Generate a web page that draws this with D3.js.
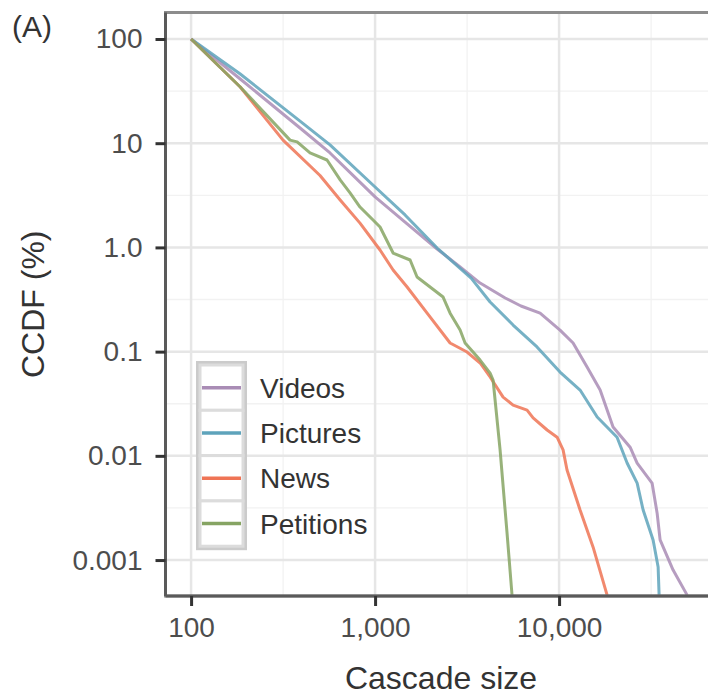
<html>
<head>
    <script src="https://cdnjs.cloudflare.com/ajax/libs/d3/7.8.5/d3.min.js"></script>
    <style>
        body { margin: 0; background: white; }
        text { font-family: "Liberation Sans", Arial, sans-serif; }
    </style>
</head>
<body>
<script>

// series, in legend order
var seriesNames = ["Videos", "Pictures", "News", "Petitions"];
var colors = ["#a98cb5", "#5ea3bb", "#ef7455", "#86a463"];

// cascade size (x) and CCDF in % (y)
var videosSize = [100, 185, 391, 569, 1000, 1455, 2174, 2898, 3722, 5095, 6209, 7886, 10117, 11916, 14194, 16717, 19654, 24322, 26562, 32016, 34109, 35401, 41660, 49660];
var videosCcdf = [100, 41.3, 14.0, 8.06, 3.05, 1.75, 0.966, 0.649, 0.455, 0.327, 0.274, 0.234, 0.161, 0.121, 0.0711, 0.0428, 0.0189, 0.0121, 0.00853, 0.00548, 0.00282, 0.00156, 0.000802, 0.000461];

var picturesSize = [100, 185, 391, 569, 1000, 1455, 2174, 3327, 4218, 5623, 7586, 10117, 13005, 16107, 20654, 23428, 26562, 28632, 32432, 34535, 34966];
var picturesCcdf = [100, 46.1, 16.3, 9.62, 3.80, 2.05, 0.986, 0.508, 0.299, 0.180, 0.111, 0.0637, 0.0428, 0.0236, 0.0151, 0.00853, 0.00548, 0.00302, 0.00156, 0.000857, 0.000461];

var newsSize = [100, 185, 316, 502, 646, 828, 1064, 1253, 1493, 1918, 2557, 3162, 3722, 4218, 4963, 5623, 6699, 7224, 8610, 9755, 10513, 11045, 13005, 15309, 18243];
var newsCcdf = [100, 34.6, 10.7, 4.9, 2.85, 1.71, 0.944, 0.607, 0.417, 0.234, 0.121, 0.0991, 0.0778, 0.0571, 0.0366, 0.0307, 0.0275, 0.0231, 0.0177, 0.0151, 0.0114, 0.00731, 0.00302, 0.00133, 0.000461];

var petitionsSize = [100, 185, 345, 377, 443, 548, 646, 731, 828, 975, 1064, 1253, 1550, 1691, 2342, 2557, 2898, 3084, 3722, 4218, 4378, 4779, 5213, 5555];
var petitionsCcdf = [100, 34.6, 10.7, 10.3, 8.06, 6.90, 4.44, 3.33, 2.44, 1.83, 1.57, 0.883, 0.757, 0.520, 0.334, 0.234, 0.161, 0.121, 0.0830, 0.0623, 0.0534, 0.0114, 0.00182, 0.000452];

// ticks
var xTicks = [100, 1000, 10000];
var xTickLabels = ["100", "1,000", "10,000"];
var yTicks = [100, 10, 1, 0.1, 0.01, 0.001];
var yTickLabels = ["100", "10", "1.0", "0.1", "0.01", "0.001"];

var series = [
    { name: seriesNames[0], color: colors[0], size: videosSize, ccdf: videosCcdf },
    { name: seriesNames[1], color: colors[1], size: picturesSize, ccdf: picturesCcdf },
    { name: seriesNames[2], color: colors[2], size: newsSize, ccdf: newsCcdf },
    { name: seriesNames[3], color: colors[3], size: petitionsSize, ccdf: petitionsCcdf }
];

var width = 708, height = 698;
var pLeft = 165.5, pTop = 12.5, pRight = 728, pBottom = 596;

var svg = d3.select("body").append("svg")
    .attr("width", width)
    .attr("height", height);

var x = d3.scaleLog()
    .domain([72.6, 82800])
    .range([pLeft, pRight]);

var y = d3.scaleLog()
    .domain([0.000452, 179.5])
    .range([pBottom, pTop]);

// grid, minor lines sit at half decades
var xMinor = xTicks.map(d => d * Math.sqrt(10));
var yMinor = yTicks.map(d => d * Math.sqrt(10)).filter(d => d < y.domain()[1]);

var grid = svg.append("g");

grid.selectAll(".xminor").data(xMinor).enter().append("line")
    .attr("x1", d => x(d)).attr("x2", d => x(d))
    .attr("y1", pTop).attr("y2", pBottom)
    .attr("stroke", "#f2f2f2").attr("stroke-width", 1.3);

grid.selectAll(".yminor").data(yMinor).enter().append("line")
    .attr("x1", pLeft).attr("x2", pRight)
    .attr("y1", d => y(d)).attr("y2", d => y(d))
    .attr("stroke", "#f2f2f2").attr("stroke-width", 1.3);

grid.selectAll(".xmajor").data(xTicks).enter().append("line")
    .attr("x1", d => x(d)).attr("x2", d => x(d))
    .attr("y1", pTop).attr("y2", pBottom)
    .attr("stroke", "#e6e6e6").attr("stroke-width", 2.5);

grid.selectAll(".ymajor").data(yTicks).enter().append("line")
    .attr("x1", pLeft).attr("x2", pRight)
    .attr("y1", d => y(d)).attr("y2", d => y(d))
    .attr("stroke", "#e6e6e6").attr("stroke-width", 2.5);

// lines
svg.append("clipPath").attr("id", "panel")
    .append("rect")
    .attr("x", pLeft).attr("y", pTop)
    .attr("width", pRight - pLeft).attr("height", pBottom - pTop);

var line = d3.line()
    .x(d => x(d[0]))
    .y(d => y(d[1]))
    .curve(d3.curveLinear);

svg.append("g")
    .attr("clip-path", "url(#panel)")
    .selectAll("path")
    .data(series)
    .enter()
    .append("path")
    .attr("fill", "none")
    .attr("stroke", d => d.color)
    .attr("stroke-width", 3)
    .attr("stroke-opacity", 0.85)
    .attr("stroke-linejoin", "round")
    .attr("d", d => line(d3.zip(d.size, d.ccdf)));

// panel border
svg.append("rect")
    .attr("x", pLeft).attr("y", pTop)
    .attr("width", pRight - pLeft).attr("height", pBottom - pTop)
    .attr("fill", "none")
    .attr("stroke", "#8c8c8c")
    .attr("stroke-width", 3);

// axes
var xAxis = d3.axisBottom(x)
    .tickValues(xTicks)
    .tickFormat((d, i) => xTickLabels[i])
    .tickSize(10)
    .tickPadding(11);

var xAxisGroup = svg.append("g")
    .attr("transform", "translate(0," + pBottom + ")")
    .call(xAxis);

var yAxis = d3.axisLeft(y)
    .tickValues(yTicks)
    .tickFormat((d, i) => yTickLabels[i])
    .tickSize(10)
    .tickPadding(13);

var yAxisGroup = svg.append("g")
    .attr("transform", "translate(" + pLeft + ",0)")
    .call(yAxis);

[xAxisGroup, yAxisGroup].forEach(function (g) {
    g.select(".domain").attr("stroke", "#5a5a5a").attr("stroke-width", 3);
    g.selectAll(".tick line").attr("stroke", "#333").attr("stroke-width", 3);
    g.selectAll(".tick text")
        .attr("fill", "#4d4d4d")
        .style("font-size", "28px")
        .style("font-family", "'Liberation Sans', Arial, sans-serif");
});
xAxisGroup.select(".domain").attr("d", "M" + pLeft + ",0H" + pRight);
yAxisGroup.select(".domain").attr("d", "M0," + pTop + "V" + pBottom);

// titles
svg.append("text")
    .attr("x", 441)
    .attr("y", 689)
    .attr("text-anchor", "middle")
    .style("font-size", "32px")
    .style("fill", "#333")
    .text("Cascade size");

svg.append("text")
    .attr("transform", "translate(44," + ((pTop + pBottom) / 2) + ") rotate(-90)")
    .attr("text-anchor", "middle")
    .style("font-size", "32px")
    .style("fill", "#333")
    .text("CCDF (%)");

svg.append("text")
    .attr("x", 12)
    .attr("y", 37)
    .style("font-size", "30px")
    .style("fill", "#333")
    .text("(A)");

// legend
var legend = svg.append("g").attr("transform", "translate(200,365)");
var keyH = 45.3, keyW = 43;

legend.append("rect")
    .attr("x", -2).attr("y", -2)
    .attr("width", keyW + 4).attr("height", keyH * series.length + 4)
    .attr("fill", "white")
    .attr("stroke", "#cbcbcb")
    .attr("stroke-width", 4);

var item = legend.selectAll(".item")
    .data(series)
    .enter()
    .append("g")
    .attr("transform", (d, i) => "translate(0," + (i * keyH) + ")");

item.append("rect")
    .attr("width", keyW).attr("height", keyH)
    .attr("fill", "white")
    .attr("stroke", "#dcdcdc")
    .attr("stroke-width", 3);

item.append("line")
    .attr("x1", 2).attr("x2", keyW - 2)
    .attr("y1", keyH / 2).attr("y2", keyH / 2)
    .attr("stroke", d => d.color)
    .attr("stroke-width", 3.5);

item.append("text")
    .attr("x", 60)
    .attr("y", keyH / 2)
    .attr("dy", "0.36em")
    .style("font-size", "28px")
    .style("fill", "#333")
    .text(d => d.name);

</script>
</body>
</html>
